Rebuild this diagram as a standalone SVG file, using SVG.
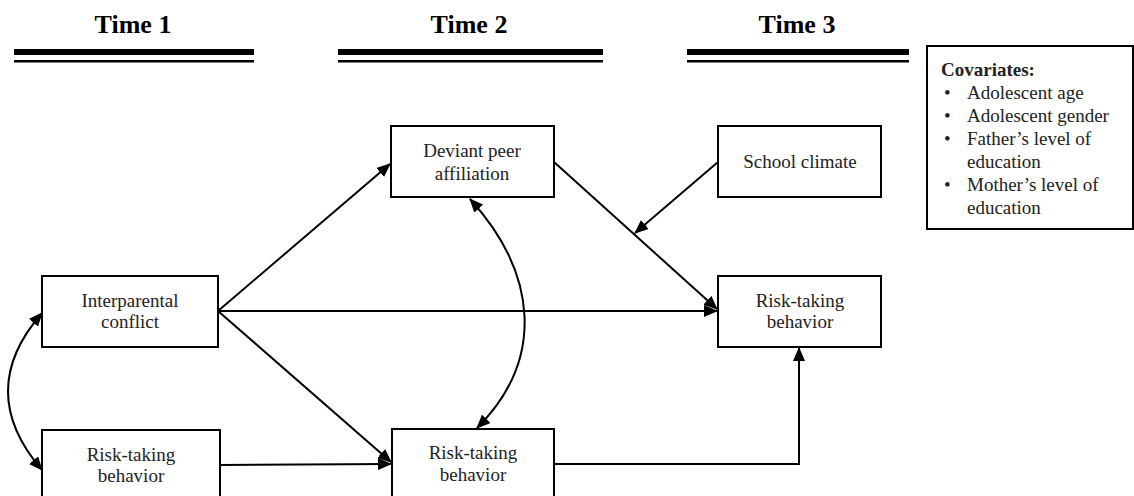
<svg xmlns="http://www.w3.org/2000/svg" width="1134" height="496" viewBox="0 0 1134 496">
<style>
.box{fill:#fff;stroke:#000;stroke-width:2}
.t{font-family:"Liberation Serif","Times New Roman",serif;font-size:19px;fill:#222;text-anchor:middle}
.h{font-family:"Liberation Serif","Times New Roman",serif;font-size:26px;font-weight:bold;fill:#000;text-anchor:middle}
.c{font-family:"Liberation Serif","Times New Roman",serif;font-size:19px;fill:#222}
.e{fill:none;stroke:#000;stroke-width:2}
</style>
<defs>
<marker id="ah" markerUnits="userSpaceOnUse" markerWidth="14" markerHeight="12" refX="13" refY="6" orient="auto-start-reverse">
<path d="M0,0 L14,6 L0,12 Z" fill="#000"/>
</marker>
</defs>
<rect width="1134" height="496" fill="#fff"/>
<g id="headers">
<text class="h" x="133" y="33">Time 1</text>
<rect x="14" y="49" width="240" height="6" fill="#000"/>
<rect x="14" y="60" width="240" height="2.5" fill="#000"/>
<text class="h" x="469" y="33">Time 2</text>
<rect x="338" y="49" width="265" height="6" fill="#000"/>
<rect x="338" y="60" width="265" height="2.5" fill="#000"/>
<text class="h" x="797" y="33">Time 3</text>
<rect x="687" y="49" width="222" height="6" fill="#000"/>
<rect x="687" y="60" width="222" height="2.5" fill="#000"/>
</g>
<g id="connectors">
<path class="e" d="M218,311 L390,164" marker-end="url(#ah)"/>
<path class="e" d="M218,311 L717,311" marker-end="url(#ah)"/>
<path class="e" d="M218,311 L391,462" marker-end="url(#ah)"/>
<path class="e" d="M220,465 L391,464" marker-end="url(#ah)"/>
<path class="e" d="M554,162 L717,309" marker-end="url(#ah)"/>
<path class="e" d="M718,162 L635,233" marker-end="url(#ah)"/>
<path class="e" d="M554,464 L799,464 L799,348" marker-end="url(#ah)"/>
<path class="e" d="M42,313 Q-26,391 42,470" marker-start="url(#ah)" marker-end="url(#ah)"/>
<path class="e" d="M470,199 C538,274 545,360 477,428" marker-start="url(#ah)" marker-end="url(#ah)"/>
</g>
<g id="interparental">
<rect class="box" x="42" y="276" width="176" height="71"/>
<text class="t" x="130" y="307">Interparental</text>
<text class="t" x="130" y="328">conflict</text>
</g>
<g id="risk1">
<rect class="box" x="42" y="430" width="178" height="72"/>
<text class="t" x="131" y="461">Risk-taking</text>
<text class="t" x="131" y="482">behavior</text>
</g>
<g id="deviant">
<rect class="box" x="391" y="126" width="163" height="71"/>
<text class="t" x="472" y="157">Deviant peer</text>
<text class="t" x="472" y="180">affiliation</text>
</g>
<g id="risk2">
<rect class="box" x="392" y="429" width="162" height="73"/>
<text class="t" x="473" y="459">Risk-taking</text>
<text class="t" x="473" y="481">behavior</text>
</g>
<g id="school">
<rect class="box" x="718" y="126" width="163" height="71"/>
<text class="t" x="800" y="168">School climate</text>
</g>
<g id="risk3">
<rect class="box" x="718" y="276" width="163" height="71"/>
<text class="t" x="800" y="307">Risk-taking</text>
<text class="t" x="800" y="328">behavior</text>
</g>
<g id="covariates">
<rect class="box" x="927" y="46" width="206" height="183"/>
<text class="c" x="941" y="76" font-weight="bold" fill="#000">Covariates:</text>
<text class="c" x="944" y="99">•</text><text class="c" x="967" y="99">Adolescent age</text>
<text class="c" x="944" y="122">•</text><text class="c" x="967" y="122">Adolescent gender</text>
<text class="c" x="944" y="145">•</text><text class="c" x="967" y="145">Father’s level of</text>
<text class="c" x="967" y="168">education</text>
<text class="c" x="944" y="191">•</text><text class="c" x="967" y="191">Mother’s level of</text>
<text class="c" x="967" y="214">education</text>
</g>
</svg>
